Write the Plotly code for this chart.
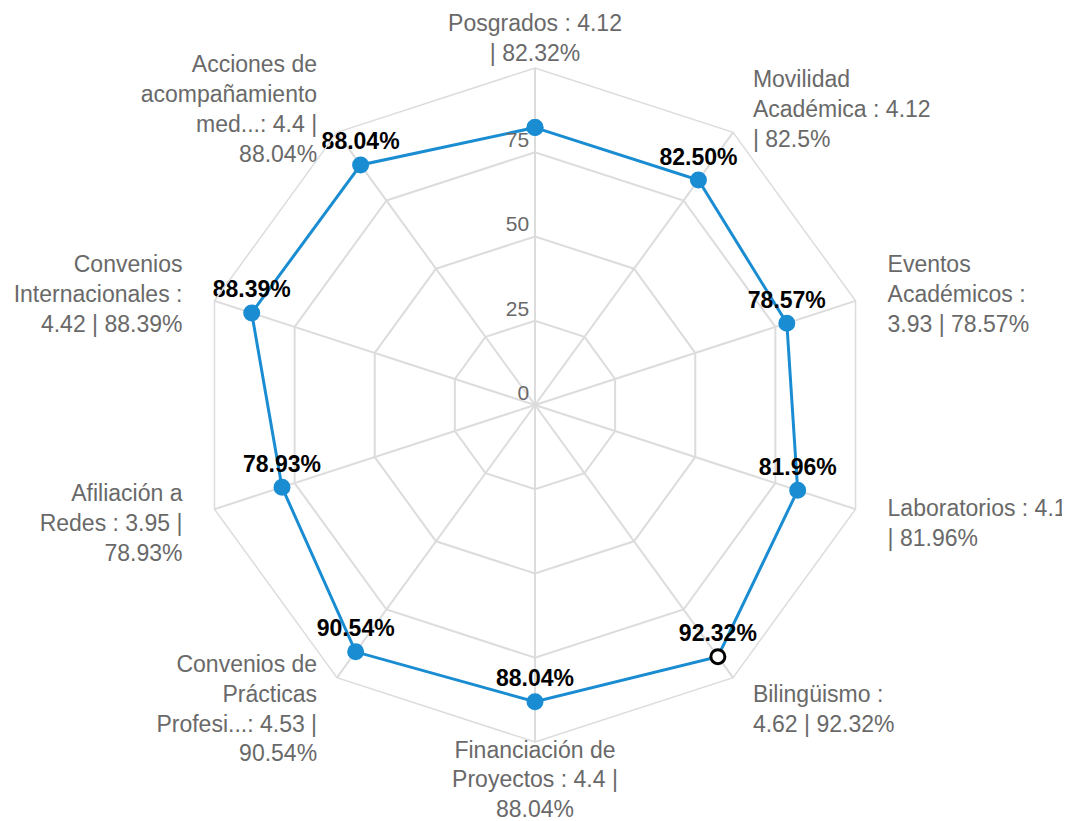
import plotly.graph_objects as go

categories = [
    "Posgrados", "Movilidad Académica", "Eventos Académicos", "Laboratorios",
    "Bilingüismo", "Financiación de Proyectos", "Convenios de Prácticas Profesi...",
    "Afiliación a Redes", "Convenios Internacionales", "Acciones de acompañamiento med...",
]
category_labels = [
    "Posgrados : 4.12<br>| 82.32%",
    "Movilidad<br>Académica : 4.12<br>| 82.5%",
    "Eventos<br>Académicos :<br>3.93 | 78.57%",
    "Laboratorios : 4.1<br>| 81.96%",
    "Bilingüismo :<br>4.62 | 92.32%",
    "Financiación de<br>Proyectos : 4.4 |<br>88.04%",
    "Convenios de<br>Prácticas<br>Profesi...: 4.53 |<br>90.54%",
    "Afiliación a<br>Redes : 3.95 |<br>78.93%",
    "Convenios<br>Internacionales :<br>4.42 | 88.39%",
    "Acciones de<br>acompañamiento<br>med...: 4.4 |<br>88.04%",
]
values = [82.32, 82.50, 78.57, 81.96, 92.32, 88.04, 90.54, 78.93, 88.39, 88.04]
value_labels = ["", "82.50%", "78.57%", "81.96%", "92.32%", "88.04%", "90.54%", "78.93%", "88.39%", "88.04%"]
radial_ticks = [0, 25, 50, 75]
highlight_index = 4

# styling
R_MAX = 100
LABEL_R = 110          # radius (in value units) where the category labels sit
OUTER_MAX = 115        # range of the overlay used only for the category labels
LABEL_DROP = 6         # px the category-label overlay is shifted down
label_positions = ["middle center", "middle right", "middle right", "middle right", "middle right",
                   "middle center", "middle left", "middle left", "middle left", "middle left"]
line_color = "#1a8dd2"
grid_color = "#dcdcdc"
label_color = "#696969"
FONT = "Liberation Sans"

marker_fill = ["white" if i == highlight_index else line_color for i in range(len(values))]
marker_edge = ["black" if i == highlight_index else line_color for i in range(len(values))]

fig = go.Figure()
fig.add_trace(go.Scatterpolar(
    r=values + [values[0]],
    theta=categories + [categories[0]],
    mode="lines+markers+text",
    line=dict(color=line_color, width=3),
    marker=dict(size=14, color=marker_fill + [marker_fill[0]],
                line=dict(color=marker_edge + [marker_edge[0]], width=3)),
    text=value_labels + [""],
    textposition="top center",
    textfont=dict(family=FONT, size=23, color="black", weight="bold"),
    cliponaxis=False,
    showlegend=False,
    subplot="polar",
))

# radial tick labels (just above-left of each grid ring), on an overlay with the same scale
fig.add_trace(go.Scatterpolar(
    r=radial_ticks,
    theta=[categories[0]] * len(radial_ticks),
    mode="text",
    text=[f"{t}\u00a0" for t in radial_ticks],
    textposition="top left",
    textfont=dict(family=FONT, size=21, color=label_color),
    cliponaxis=False,
    hoverinfo="skip",
    showlegend=False,
    subplot="polar2",
))

# category labels placed outside the grid through an overlaid polar scale
fig.add_trace(go.Scatterpolar(
    r=[LABEL_R] * len(categories),
    theta=categories,
    mode="text",
    text=category_labels,
    textposition=label_positions,
    textfont=dict(family=FONT, size=23, color=label_color),
    cliponaxis=False,
    hoverinfo="skip",
    showlegend=False,
    subplot="polar3",
))

W, H = 1070, 821
cx, cy, R = 527, 397, 337
R3 = R * OUTER_MAX / R_MAX


def dom(rad, ccy):
    return dict(x=[(cx - rad) / W, (cx + rad) / W], y=[(H - ccy - rad) / H, (H - ccy + rad) / H])


hidden_angular = dict(direction="clockwise", rotation=90, showline=False, showgrid=False,
                      ticks="", showticklabels=False)

fig.update_layout(
    width=W, height=H,
    margin=dict(l=0, r=0, t=0, b=0),
    paper_bgcolor="white",
    plot_bgcolor="white",
    font=dict(family=FONT, color=label_color, size=22),
    polar=dict(
        domain=dom(R, cy),
        bgcolor="white",
        gridshape="linear",
        angularaxis=dict(
            direction="clockwise",
            rotation=90,
            showline=True,
            linecolor=grid_color,
            linewidth=1.5,
            gridcolor=grid_color,
            gridwidth=1.5,
            ticks="",
            showticklabels=False,
        ),
        radialaxis=dict(
            range=[0, R_MAX],
            tickvals=radial_ticks,
            angle=90,
            showline=False,
            gridcolor=grid_color,
            gridwidth=1.5,
            ticks="",
            showticklabels=False,
        ),
    ),
    polar2=dict(
        domain=dom(R, cy),
        bgcolor="rgba(0,0,0,0)",
        angularaxis=hidden_angular,
        radialaxis=dict(range=[0, R_MAX], visible=False),
    ),
    polar3=dict(
        domain=dom(R3, cy + LABEL_DROP),
        bgcolor="rgba(0,0,0,0)",
        angularaxis=hidden_angular,
        radialaxis=dict(range=[0, OUTER_MAX], visible=False),
    ),
)

fig.write_html("out.html")
